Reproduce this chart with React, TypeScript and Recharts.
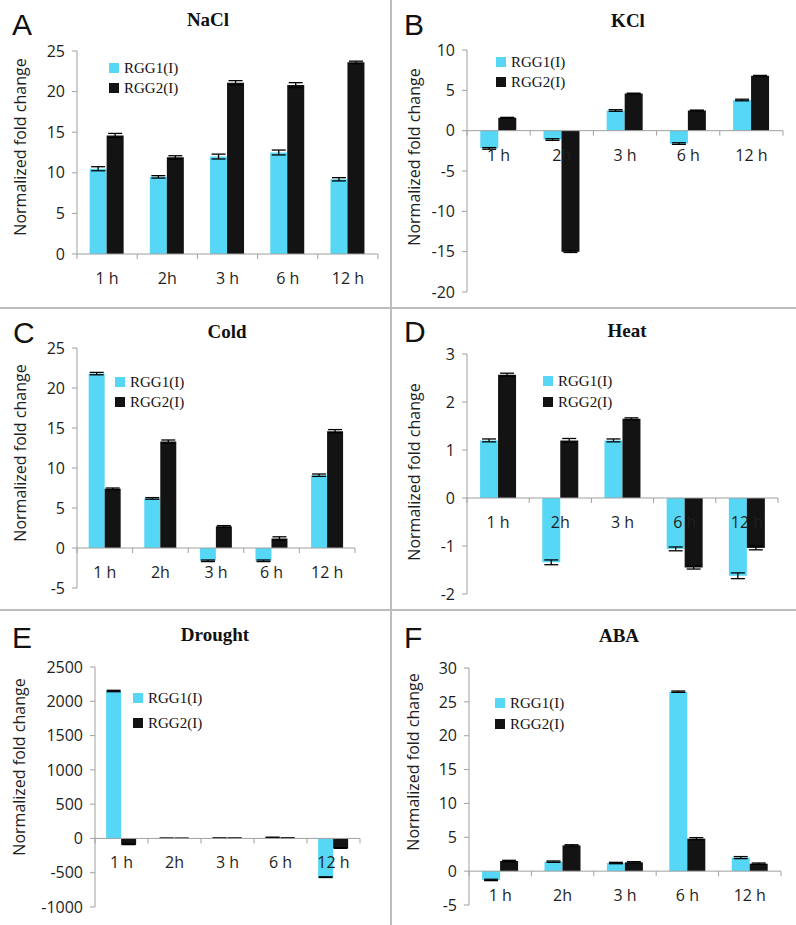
import React from 'react';
import { BarChart, Bar, XAxis, YAxis, ReferenceLine, ErrorBar, Legend } from 'recharts';

const hours = ['1 h', '2h', '3 h', '6 h', '12 h'];

// A - NaCl
const naclRgg1 = [10.5, 9.5, 12.0, 12.5, 9.2];
const naclRgg1Err = [0.25, 0.15, 0.3, 0.3, 0.2];
const naclRgg2 = [14.6, 11.9, 21.1, 20.8, 23.6];
const naclRgg2Err = [0.25, 0.2, 0.25, 0.3, 0.15];
const naclTicks = [0, 5, 10, 15, 20, 25];

// B - KCl
const kclRgg1 = [-2.2, -1.1, 2.5, -1.6, 3.8];
const kclRgg1Err = [0.1, 0.1, 0.1, 0.1, 0.1];
const kclRgg2 = [1.6, -15.0, 4.6, 2.5, 6.8];
const kclRgg2Err = [0.05, 0.1, 0.05, 0.05, 0.05];
const kclTicks = [-20, -15, -10, -5, 0, 5, 10];

// C - Cold
const coldRgg1 = [21.8, 6.2, -1.6, -1.6, 9.1];
const coldRgg1Err = [0.15, 0.1, 0.1, 0.1, 0.15];
const coldRgg2 = [7.4, 13.3, 2.7, 1.2, 14.6];
const coldRgg2Err = [0.1, 0.2, 0.1, 0.2, 0.2];
const coldTicks = [-5, 0, 5, 10, 15, 20, 25];

// D - Heat
const heatRgg1 = [1.2, -1.34, 1.2, -1.06, -1.62];
const heatRgg1Err = [0.03, 0.05, 0.03, 0.04, 0.06];
const heatRgg2 = [2.57, 1.2, 1.65, -1.45, -1.04];
const heatRgg2Err = [0.03, 0.04, 0.02, 0.03, 0.04];
const heatTicks = [-2, -1, 0, 1, 2, 3];

// E - Drought
const droughtRgg1 = [2150, 3, 5, 15, -565];
const droughtRgg1Err = [10, 1, 1, 3, 5];
const droughtRgg2 = [-85, 2, 4, 6, -140];
const droughtRgg2Err = [5, 1, 1, 1, 5];
const droughtTicks = [-1000, -500, 0, 500, 1000, 1500, 2000, 2500];

// F - ABA
const abaRgg1 = [-1.3, 1.4, 1.2, 26.5, 2.0];
const abaRgg1Err = [0.1, 0.1, 0.1, 0.1, 0.15];
const abaRgg2 = [1.5, 3.8, 1.3, 4.8, 1.1];
const abaRgg2Err = [0.1, 0.1, 0.1, 0.15, 0.1];
const abaTicks = [-5, 0, 5, 10, 15, 20, 25, 30];

const CYAN = '#55d7f5';
const DARK = '#131313';
const AXIS = '#a0a0a0';
const DIVIDER = '#bdbdbd';
const SANS = "'Open Sans', sans-serif";
const SERIF = "'Liberation Serif', 'Times New Roman', serif";

const panels = [
  {
    letter: 'A', title: 'NaCl', rgg1: naclRgg1, rgg1Err: naclRgg1Err, rgg2: naclRgg2, rgg2Err: naclRgg2Err, ticks: naclTicks,
    plot: { l: 77, t: 51, r: 378, b: 254 }, legend: { x: 109, y: 63, gap: 20 },
    letterPos: [12, 35], titlePos: [208, 26], yLabelPos: [20, 147],
  },
  {
    letter: 'B', title: 'KCl', rgg1: kclRgg1, rgg1Err: kclRgg1Err, rgg2: kclRgg2, rgg2Err: kclRgg2Err, ticks: kclTicks,
    plot: { l: 467, t: 50, r: 783, b: 292 }, legend: { x: 496, y: 57, gap: 20 },
    letterPos: [404, 35], titlePos: [628, 27], yLabelPos: [414, 157],
  },
  {
    letter: 'C', title: 'Cold', rgg1: coldRgg1, rgg1Err: coldRgg1Err, rgg2: coldRgg2, rgg2Err: coldRgg2Err, ticks: coldTicks,
    plot: { l: 77, t: 348, r: 355, b: 588 }, legend: { x: 115, y: 377, gap: 20 },
    letterPos: [13, 343], titlePos: [227, 338], yLabelPos: [20, 453],
  },
  {
    letter: 'D', title: 'Heat', rgg1: heatRgg1, rgg1Err: heatRgg1Err, rgg2: heatRgg2, rgg2Err: heatRgg2Err, ticks: heatTicks,
    plot: { l: 467, t: 354, r: 778, b: 594 }, legend: { x: 543, y: 376, gap: 21 },
    letterPos: [404, 342], titlePos: [627, 337], yLabelPos: [414, 472],
  },
  {
    letter: 'E', title: 'Drought', rgg1: droughtRgg1, rgg1Err: droughtRgg1Err, rgg2: droughtRgg2, rgg2Err: droughtRgg2Err, ticks: droughtTicks,
    plot: { l: 95, t: 667, r: 360, b: 907 }, legend: { x: 133, y: 693, gap: 25 },
    letterPos: [12, 648], titlePos: [215, 641], yLabelPos: [19, 767],
  },
  {
    letter: 'F', title: 'ABA', rgg1: abaRgg1, rgg1Err: abaRgg1Err, rgg2: abaRgg2, rgg2Err: abaRgg2Err, ticks: abaTicks,
    plot: { l: 469, t: 668, r: 781, b: 905 }, legend: { x: 495, y: 698, gap: 21 },
    letterPos: [404, 648], titlePos: [619, 642], yLabelPos: [413, 762],
  },
];

const YW = 60;
const PAD = 10;
const XH = 40;

function Panel({ p }: { p: any }) {
  const plotW = p.plot.r - p.plot.l;
  const plotH = p.plot.b - p.plot.t;
  const left = p.plot.l - YW;
  const top = p.plot.t - PAD;
  const lo = p.ticks[0];
  const hi = p.ticks[p.ticks.length - 1];
  const band = plotW / hours.length;

  const data = hours.map((h, i) => ({
    hour: h,
    rgg1: p.rgg1[i],
    rgg1Err: p.rgg1Err[i],
    rgg2: p.rgg2[i],
    rgg2Err: p.rgg2Err[i],
  }));

  // category labels sit just under the zero line, tick marks at category edges
  const XTick = (props: any) => {
    const { x, y, payload, index } = props;
    const zeroY = y - ((0 - lo) / (hi - lo)) * plotH;
    return (
      <g>
        <line x1={x - band / 2} x2={x - band / 2} y1={zeroY} y2={zeroY + 5} stroke={AXIS} />
        {index === hours.length - 1 && (
          <line x1={x + band / 2} x2={x + band / 2} y1={zeroY} y2={zeroY + 5} stroke={AXIS} />
        )}
        <text x={x} y={zeroY + 24} textAnchor="middle" dominantBaseline="central"
          fontFamily={SANS} fontSize={16} fill="#1e1e1e">
          {payload.value}
        </text>
      </g>
    );
  };

  const renderLegend = (props: any) => (
    <div style={{ fontFamily: SERIF, fontSize: 15, color: '#111' }}>
      {props.payload.map((item: any) => (
        <div key={item.value} style={{ display: 'flex', alignItems: 'center', height: p.legend.gap }}>
          <span style={{ display: 'inline-block', width: 10, height: 10, background: item.color, marginRight: 5 }} />
          <span>{item.value}</span>
        </div>
      ))}
    </div>
  );

  return (
    <div style={{ position: 'absolute', left, top }}>
      <BarChart
        width={plotW + YW + PAD}
        height={plotH + PAD + XH}
        data={data}
        margin={{ top: PAD, right: PAD, bottom: 0, left: 0 }}
        barCategoryGap="21%"
        barGap={0}
      >
        <XAxis dataKey="hour" height={XH} axisLine={false} tickLine={false}
          tickSize={0} tickMargin={0} tick={XTick} interval={0} />
        <YAxis
          type="number"
          width={YW}
          domain={[lo, hi]}
          ticks={p.ticks}
          interval={0}
          allowDataOverflow
          axisLine={{ stroke: AXIS }}
          tickLine={{ stroke: AXIS }}
          tickSize={5}
          tickMargin={7}
          tick={{ fontFamily: SANS, fontSize: 16, fill: '#1e1e1e' }}
        />
        <Legend
          layout="vertical"
          align="center"
          verticalAlign="middle"
          content={renderLegend}
          wrapperStyle={{
            left: p.legend.x - left,
            top: p.legend.y - (p.legend.gap - 10) / 2 - top,
            width: 'auto',
          }}
        />
        <Bar dataKey="rgg1" name="RGG1(I)" fill={CYAN} isAnimationActive={false}>
          <ErrorBar dataKey="rgg1Err" width={7} stroke="#000" strokeWidth={1.3} isAnimationActive={false} />
        </Bar>
        <Bar dataKey="rgg2" name="RGG2(I)" fill={DARK} isAnimationActive={false}>
          <ErrorBar dataKey="rgg2Err" width={7} stroke="#000" strokeWidth={1.3} isAnimationActive={false} />
        </Bar>
        <ReferenceLine y={0} stroke={AXIS} strokeWidth={1} />
      </BarChart>
    </div>
  );
}

export default function App() {
  return (
    <div style={{ position: 'absolute', left: 0, top: 0, width: 796, height: 925, background: '#fff', overflow: 'hidden' }}>
      {panels.map((p) => (
        <Panel key={p.letter} p={p} />
      ))}
      <svg width={796} height={925} style={{ position: 'absolute', left: 0, top: 0, pointerEvents: 'none' }}>
        <line x1={391} x2={391} y1={0} y2={925} stroke={DIVIDER} strokeWidth={2} />
        <line x1={0} x2={796} y1={308} y2={308} stroke={DIVIDER} strokeWidth={2} />
        <line x1={0} x2={796} y1={610} y2={610} stroke={DIVIDER} strokeWidth={2} />
        {panels.map((p) => (
          <g key={p.letter}>
            <text x={p.letterPos[0]} y={p.letterPos[1]} fontFamily="'Liberation Sans', Arial, sans-serif"
              fontSize={30} fill="#111">
              {p.letter}
            </text>
            <text x={p.titlePos[0]} y={p.titlePos[1]} textAnchor="middle" fontFamily={SERIF}
              fontWeight="bold" fontSize={19} fill="#111">
              {p.title}
            </text>
            <text
              x={p.yLabelPos[0]}
              y={p.yLabelPos[1]}
              textAnchor="middle"
              dominantBaseline="central"
              transform={`rotate(-90, ${p.yLabelPos[0]}, ${p.yLabelPos[1]})`}
              fontFamily={SANS}
              fontSize={16}
              fill="#1e1e1e"
            >
              Normalized fold change
            </text>
          </g>
        ))}
      </svg>
    </div>
  );
}
